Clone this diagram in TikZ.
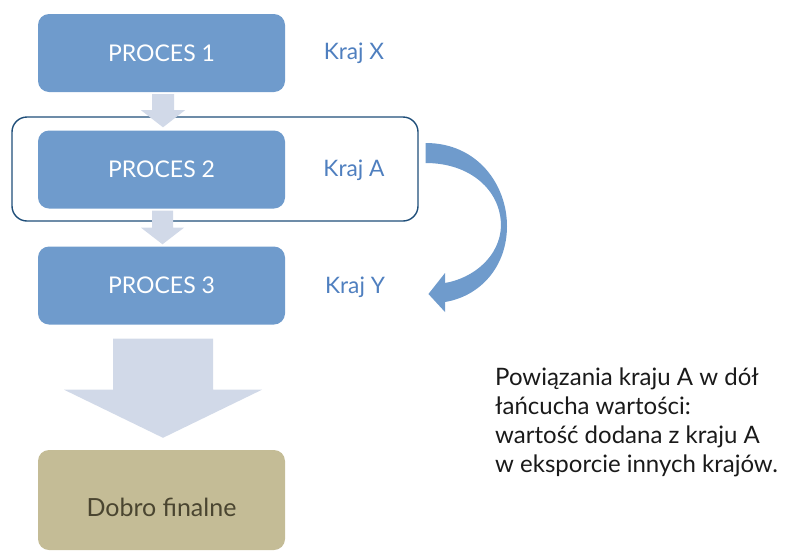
\documentclass[tikz,border=0pt]{standalone}
\usepackage{fontspec}
\setmainfont{Lato}
\usetikzlibrary{calc}
\definecolor{procblue}{HTML}{6F9BCC}
\definecolor{labelblue}{HTML}{4F7FBF}
\definecolor{flowgray}{HTML}{D1D9E8}
\definecolor{framenavy}{HTML}{1F4E79}
\definecolor{goodtan}{HTML}{C4BC96}
\definecolor{goodtext}{HTML}{4A4530}
\definecolor{bodytext}{HTML}{1A1A1A}
\tikzset{
  procbox/.style={fill=procblue, draw=none, rounded corners=11pt,
    minimum width=247pt, minimum height=78pt, text=white,
    font=\fontsize{23}{27}\selectfont},
  countrylabel/.style={text=labelblue, font=\fontsize{22.7}{27}\selectfont},
  flowarrow/.style={fill=flowgray, draw=none},
  bendarrow/.style={fill=procblue, draw=none},
}
\begin{document}
\begin{tikzpicture}[x=1pt, y=-1pt]
\useasboundingbox (0,0) rectangle (790,555);

% process chain
\node[procbox] (p1) at (161.5,53) {PROCES 1};
\node[procbox] (p2) at (161.5,169.5) {PROCES 2};
\node[procbox] (p3) at (161.5,285.5) {PROCES 3};
\node[procbox, fill=goodtan, minimum height=100pt] (fin) at (161.5,500) {};
\node[text=goodtext, font=\fontsize{25}{30}\selectfont] (fintext) at (161.5,507) {Dobro finalne};

% country labels
\node[countrylabel] (kx) at (354,53) {Kraj X};
\node[countrylabel] (ka) at (354,170) {Kraj A};
\node[countrylabel] (ky) at (355,287) {Kraj Y};

% frame around country A
\node[draw=framenavy, line width=1.4pt, rounded corners=15pt,
      minimum width=406pt, minimum height=104pt] (frameA) at (215,169) {};

% small block arrows between processes
\fill[flowarrow]
  ($(p1.south)+(-9.5,2)$) -- ($(p1.south)+(12.5,2)$) -- ($(p1.south)+(12.5,18)$)
  -- ($(p1.south)+(23.5,18)$) -- ($(p2.north)+(1.5,-3)$) -- ($(p1.south)+(-20.5,18)$)
  -- ($(p1.south)+(-9.5,18)$) -- cycle;
\fill[flowarrow]
  ($(p2.south)+(-9.5,2)$) -- ($(p2.south)+(11.5,2)$) -- ($(p2.south)+(11.5,19)$)
  -- ($(p2.south)+(22.5,19)$) -- ($(p3.north)+(1,-2)$) -- ($(p2.south)+(-20.5,19)$)
  -- ($(p2.south)+(-9.5,19)$) -- cycle;

% large block arrow to the final good
\fill[flowarrow]
  ($(p3.south)+(-48.5,14)$) -- ($(p3.south)+(51.5,14)$) -- ($(p3.south)+(51.5,65)$)
  -- ($(p3.south)+(100.5,65)$) -- ($(fin.north)+(1.5,-12)$) -- ($(p3.south)+(-97.5,65)$)
  -- ($(p3.south)+(-48.5,65)$) -- cycle;

% curved arrow from country A to country Y
\coordinate (cs) at ($(frameA.east)+(7,-26)$);
\fill[bendarrow]
  (cs) .. controls ($(cs)+(52,0)$) and (507,185) .. (507,226)
  .. controls (507,266) and (481,296) .. (445,302)
  -- (445,312) -- ($(ky.east)+(40,7)$) -- (445,273) -- (445,283)
  .. controls (474,278) and (500,256) .. (501,226)
  .. controls (501,190) and (470,163) .. ($(cs)+(0,20)$) -- cycle;

% explanatory text
\node[anchor=base west, align=left, text=bodytext, inner sep=0pt,
      font=\fontsize{24}{28.7}\selectfont] (note) at (495,472)
  {Powiązania kraju A w dół\\
   łańcucha wartości:\\
   wartość dodana z kraju A\\
   w eksporcie innych krajów.};
\end{tikzpicture}
\end{document}
